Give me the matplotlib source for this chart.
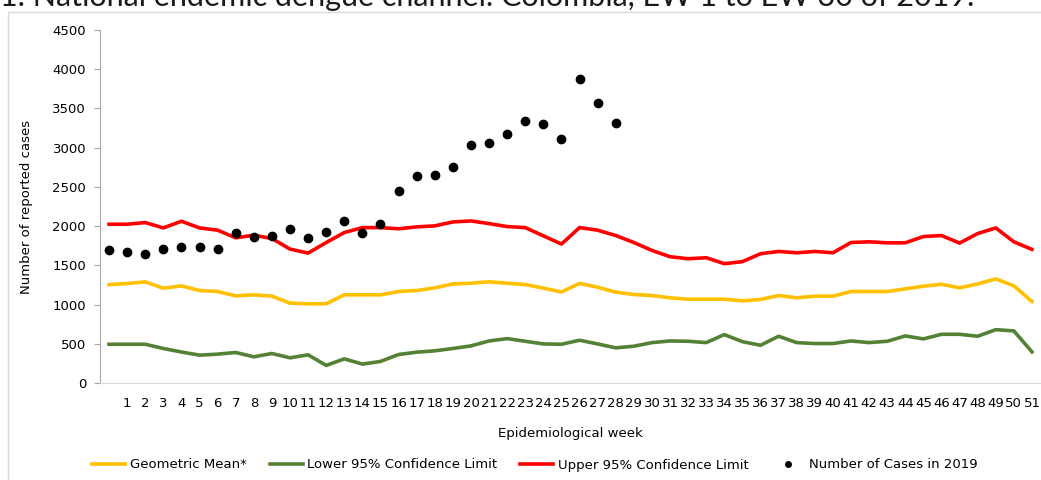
import numpy as np
import matplotlib
matplotlib.use("Agg")
import matplotlib.pyplot as plt
from matplotlib.patches import Rectangle
from matplotlib.lines import Line2D

# Epidemiological weeks (52 categories, labels 1..51 shifted by one slot)
weeks = list(range(52))
week_labels = [""] + [str(i) for i in range(1, 52)]

geo_mean = [1255, 1268, 1289, 1208, 1238, 1179, 1166, 1111, 1124, 1107,
            1018, 1010, 1010, 1124, 1124, 1124, 1166, 1179, 1213, 1263,
            1272, 1290, 1272, 1255, 1210, 1160, 1270, 1221, 1158, 1128,
            1115, 1086, 1068, 1068, 1068, 1047, 1065, 1115, 1086, 1107,
            1107, 1166, 1166, 1166, 1200, 1234, 1259, 1213, 1263, 1327,
            1239, 1039]

lower_ci = [494, 494, 494, 440, 395, 355, 368, 389, 334, 376,
            321, 359, 224, 308, 241, 275, 363, 393, 410, 440,
            473, 536, 566, 532, 498, 494, 545, 498, 448, 469,
            515, 536, 532, 515, 617, 527, 481, 596, 515, 503,
            503, 536, 515, 532, 600, 562, 621, 621, 596, 680,
            664, 397]

upper_ci = [2024, 2024, 2045, 1977, 2062, 1977, 1948, 1851, 1884, 1842,
            1707, 1656, 1791, 1918, 1981, 1981, 1966, 1990, 2003, 2053,
            2066, 2032, 1994, 1981, 1876, 1771, 1981, 1948, 1880, 1791,
            1690, 1610, 1584, 1597, 1521, 1547, 1648, 1677, 1660, 1677,
            1660, 1791, 1800, 1787, 1787, 1867, 1880, 1784, 1905, 1977,
            1800, 1703]

cases_2019 = [1699, 1673, 1648, 1711, 1737, 1737, 1711, 1914, 1863, 1876,
              1965, 1851, 1927, 2066, 1914, 2028, 2446, 2637, 2650, 2751,
              3030, 3055, 3169, 3334, 3296, 3106, 3879, 3575, 3309]

FS = 9.5

fig = plt.figure(figsize=(10.41, 4.80), dpi=100)

# light frame of the original figure box
fig.patches.append(Rectangle((8 / 1041, -0.1), 1.1, 1 - 12 / 480 + 0.1,
                             transform=fig.transFigure, fill=False,
                             edgecolor="#d9d9d9", linewidth=1.0))

# title, cut off at the top edge like in the source
fig.text(0.0, 1.0 - 6 / 480, "1. National endemic dengue channel. Colombia, EW 1 to EW 30 of 2019.",
         fontsize=22, family="Lato", ha="left", va="baseline", color="#1a1a1a")

ax = fig.add_axes([100 / 1041, 1 - 383 / 480, 941 / 1041, (383 - 30) / 480])

ax.plot(weeks, geo_mean, color="#FFC000", lw=2.6, label="Geometric Mean*")
ax.plot(weeks, lower_ci, color="#548235", lw=2.6, label="Lower 95% Confidence Limit")
ax.plot(weeks, upper_ci, color="#FF0000", lw=2.6, label="Upper 95% Confidence Limit")
ax.plot(weeks[:len(cases_2019)], cases_2019, "o", color="black", ms=6,
        label="Number of Cases in 2019")

ax.set_xlim(-0.5, 51.5)
ax.set_ylim(0, 4500)
ax.set_yticks(np.arange(0, 4501, 500))
ax.set_xticks(weeks)
ax.set_xticklabels(week_labels)

for s in ["top", "right"]:
    ax.spines[s].set_visible(False)
ax.spines["left"].set_color("#a6a6a6")
ax.spines["bottom"].set_color("#d9d9d9")
ax.tick_params(axis="y", length=4, color="#a6a6a6", labelsize=FS, pad=6)
ax.tick_params(axis="x", length=0, labelsize=FS, pad=10)

ax.set_xlabel("Epidemiological week", fontsize=FS, labelpad=12)
ax.set_ylabel("Number of reported cases", fontsize=FS, labelpad=14)

handles = [
    Line2D([], [], color="#FFC000", lw=2.6),
    Line2D([], [], color="#548235", lw=2.6),
    Line2D([], [], color="#FF0000", lw=2.6),
    Line2D([], [], marker="o", ls="none", color="black", ms=4),
]
labels = ["Geometric Mean*", "Lower 95% Confidence Limit",
          "Upper 95% Confidence Limit", "Number of Cases in 2019"]
fig.legend(handles, labels, loc="center", bbox_to_anchor=(535 / 1041, 1 - 465 / 480),
           ncol=4, frameon=False, fontsize=FS, handlelength=2.5,
           handletextpad=0.35, columnspacing=1.75)

plt.savefig("out.png", dpi=100)
plt.close()
